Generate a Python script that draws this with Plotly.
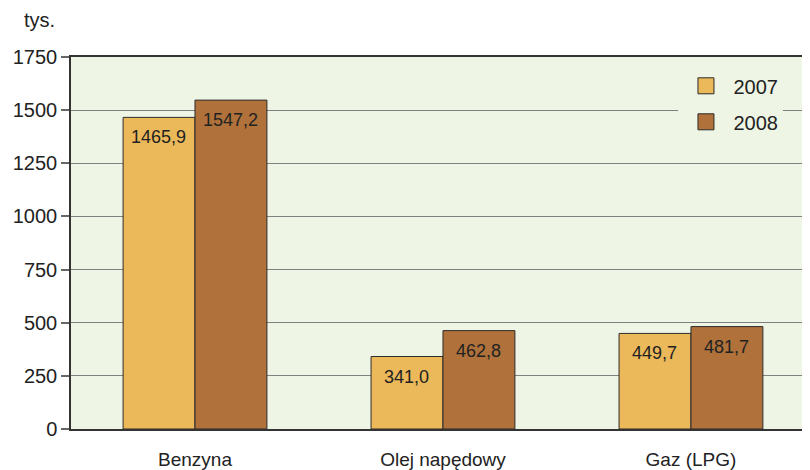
import plotly.graph_objects as go

categories = ["Benzyna", "Olej napędowy", "Gaz (LPG)"]
series_names = ["2007", "2008"]
values_2007 = [1465.9, 341.0, 449.7]
values_2008 = [1547.2, 462.8, 481.7]
labels_2007 = ["1465,9", "341,0", "449,7"]
labels_2008 = ["1547,2", "462,8", "481,7"]
y_ticks = [0, 250, 500, 750, 1000, 1250, 1500, 1750]

colors = ["#EBB95A", "#B0723A"]
font_family = "Liberation Sans, Arial, sans-serif"
text_color = "#222222"
outline = "#2b2b2b"

BAR_HALF = 36  # half bar width in px, used to centre labels over each bar

fig = go.Figure()
for name, vals, col in [
    (series_names[0], values_2007, colors[0]),
    (series_names[1], values_2008, colors[1]),
]:
    fig.add_trace(go.Bar(
        x=categories, y=vals, name=name, showlegend=False,
        marker=dict(color=col, line=dict(color=outline, width=1)),
        cliponaxis=False,
    ))
    # legend-only entry with a larger square swatch
    fig.add_trace(go.Scatter(
        x=[None], y=[None], mode="markers", name=name, legendgroup=name,
        marker=dict(symbol="square", size=18, color=col,
                    line=dict(color=outline, width=1)),
    ))

for labs, vals, shift in [(labels_2007, values_2007, -BAR_HALF),
                          (labels_2008, values_2008, BAR_HALF)]:
    for cat, lab, v in zip(categories, labs, vals):
        fig.add_annotation(
            x=cat, y=v, text=lab, showarrow=False,
            xshift=shift, yshift=-20, yanchor="middle", xanchor="center",
            font=dict(size=18, color=text_color),
        )

fig.update_layout(
    width=802, height=462,
    margin=dict(l=63, r=0, t=49, b=41, autoexpand=False),
    paper_bgcolor="white",
    plot_bgcolor="#EFF5E4",
    barmode="group",
    bargap=0.42, bargroupgap=0,
    font=dict(family=font_family, size=20, color=text_color),
    showlegend=True,
    legend=dict(
        x=0.822, y=0.975, xanchor="left", yanchor="top",
        bgcolor="#EFF5E4", borderwidth=0,
        font=dict(size=20, color=text_color),
        tracegroupgap=7, itemwidth=45, itemsizing="trace",
    ),
)

fig.update_xaxes(
    type="category", range=[-0.5, 2.48], automargin=False,
    showline=True, linecolor="#333333", linewidth=1.5, mirror=True,
    ticks="", showgrid=False,
    tickfont=dict(size=19, color=text_color),
    ticklabelstandoff=12,
)
fig.update_yaxes(
    range=[0, 1750], tickvals=y_ticks, automargin=False,
    showline=True, linecolor="#333333", linewidth=1.5,
    ticks="outside", ticklen=8, tickcolor="#666666", tickwidth=1.5,
    showgrid=True, gridcolor="#808080", gridwidth=1.3,
    zeroline=False,
    tickfont=dict(size=20, color=text_color),
)

fig.add_annotation(
    text="tys.", xref="paper", yref="paper", x=-0.066, y=1.1,
    xanchor="left", yanchor="middle", showarrow=False,
    font=dict(size=20, color=text_color),
)

fig.write_html("out.html")
